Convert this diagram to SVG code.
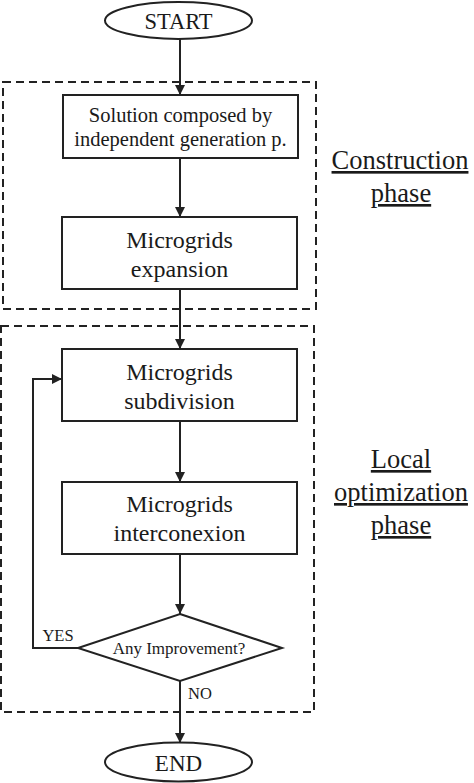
<svg xmlns="http://www.w3.org/2000/svg" width="474" height="783" viewBox="0 0 474 783" font-family="'Liberation Serif', 'DejaVu Serif', serif">
<defs>
<style>
.sh{fill:#fff;stroke:#222;stroke-width:2}
.dash{fill:none;stroke:#222;stroke-width:2;stroke-dasharray:8,5}
.ln{fill:none;stroke:#222;stroke-width:2}
text{fill:#1a1a1a;text-anchor:middle}
.t24{font-size:24px}
.t20{font-size:20.5px}
.ph{font-size:26.5px;text-decoration:underline}
.lb{font-size:16.5px}
</style>
<marker id="ah" viewBox="0 0 10 10" refX="10" refY="5" markerWidth="10" markerHeight="10" markerUnits="userSpaceOnUse" orient="auto">
<path d="M0,0 L10,5 L0,10 Z" fill="#222"/>
</marker>
</defs>
<rect width="474" height="783" fill="#fff"/>
<g id="phase-boxes">
<rect class="dash" x="3" y="82" width="313" height="227"/>
<rect class="dash" x="1" y="326" width="313" height="386"/>
</g>
<g id="connectors">
<line class="ln" x1="180" y1="39" x2="180" y2="95" marker-end="url(#ah)"/>
<line class="ln" x1="180" y1="158" x2="180" y2="217" marker-end="url(#ah)"/>
<line class="ln" x1="180" y1="289" x2="180" y2="349" marker-end="url(#ah)"/>
<line class="ln" x1="180" y1="421" x2="180" y2="482" marker-end="url(#ah)"/>
<line class="ln" x1="180" y1="554" x2="180" y2="614" marker-end="url(#ah)"/>
<polyline class="ln" points="78,648 33,648 33,379 62,379" marker-end="url(#ah)"/>
<line class="ln" x1="180" y1="681" x2="180" y2="743" marker-end="url(#ah)"/>
<text class="lb" x="58" y="641">YES</text>
<text class="lb" x="200" y="699">NO</text>
</g>
<g id="start">
<ellipse class="sh" cx="178.5" cy="20.5" rx="73.5" ry="18.5"/>
<text x="178.5" y="29" font-size="22.5">START</text>
</g>
<g id="solution">
<rect class="sh" x="63" y="95" width="235" height="63"/>
<text class="t20" x="180.5" y="122">Solution composed by</text>
<text class="t20" x="180.5" y="146">independent generation p.</text>
</g>
<g id="expansion">
<rect class="sh" x="62" y="217" width="235" height="72"/>
<text class="t24" x="179.5" y="248">Microgrids</text>
<text class="t24" x="179.5" y="277">expansion</text>
</g>
<g id="subdivision">
<rect class="sh" x="62" y="349" width="235" height="72"/>
<text class="t24" x="179.5" y="380">Microgrids</text>
<text class="t24" x="179.5" y="409">subdivision</text>
</g>
<g id="interconexion">
<rect class="sh" x="62" y="482" width="235" height="72"/>
<text class="t24" x="179.5" y="512">Microgrids</text>
<text class="t24" x="179.5" y="541">interconexion</text>
</g>
<g id="decision">
<polygon class="sh" points="180,614 282,648 180,681 78,648"/>
<text x="179" y="654" font-size="17">Any Improvement?</text>
</g>
<g id="end">
<ellipse class="sh" cx="178.5" cy="762" rx="73.5" ry="19.5"/>
<text x="178.5" y="771" font-size="23">END</text>
</g>
<g id="construction-label">
<text class="ph" x="400" y="169">Construction</text>
<text class="ph" x="401" y="202">phase</text>
</g>
<g id="local-label">
<text class="ph" x="401" y="468">Local</text>
<text class="ph" x="401" y="501">optimization</text>
<text class="ph" x="401" y="534">phase</text>
</g>
</svg>
